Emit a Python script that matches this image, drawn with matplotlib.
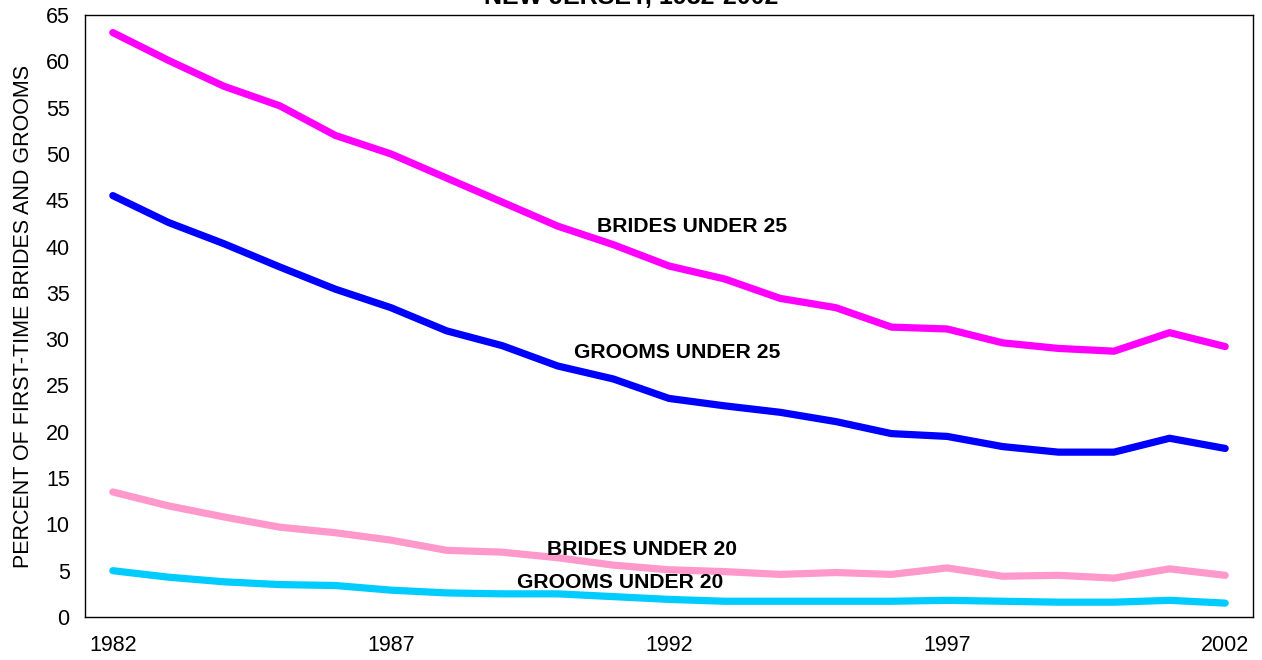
import matplotlib
matplotlib.use("Agg")
import matplotlib.pyplot as plt

plt.rcParams['font.family'] = ['Liberation Sans', 'DejaVu Sans']

years = list(range(1982, 2003))
brides_under_25 = [63.1, 60.1, 57.3, 55.2, 52.0, 50.0, 47.4, 44.8, 42.2, 40.2, 37.9,
                   36.5, 34.4, 33.4, 31.3, 31.1, 29.6, 29.0, 28.7, 30.7, 29.2]
grooms_under_25 = [45.5, 42.6, 40.3, 37.8, 35.4, 33.4, 30.9, 29.3, 27.1, 25.7, 23.6,
                   22.8, 22.1, 21.1, 19.8, 19.5, 18.4, 17.8, 17.8, 19.3, 18.2]
brides_under_20 = [13.5, 12.0, 10.8, 9.7, 9.1, 8.3, 7.2, 7.0, 6.4, 5.6, 5.1,
                   4.9, 4.6, 4.8, 4.6, 5.3, 4.4, 4.5, 4.2, 5.2, 4.5]
grooms_under_20 = [5.0, 4.3, 3.8, 3.5, 3.4, 2.9, 2.6, 2.5, 2.5, 2.2, 1.9,
                   1.7, 1.7, 1.7, 1.7, 1.8, 1.7, 1.6, 1.6, 1.8, 1.5]

series = [
    ("BRIDES UNDER 25", brides_under_25, "#FF00FF", (1992.41, 42.2)),
    ("GROOMS UNDER 25", grooms_under_25, "#0000FF", (1992.14, 28.6)),
    ("BRIDES UNDER 20", brides_under_20, "#FF99CC", (1991.51, 7.3)),
    ("GROOMS UNDER 20", grooms_under_20, "#00CCFF", (1991.12, 3.7)),
]

fig = plt.figure(figsize=(12.62, 6.6), dpi=100)
ax = fig.add_axes([85/1262, 43/660, (1253-85)/1262, (617-15)/660])

for name, vals, color, (lx, ly) in series:
    ax.plot(years, vals, color=color, linewidth=5.2, solid_capstyle='round',
            solid_joinstyle='round')
    ax.text(lx, ly, name, ha='center', va='center', fontsize=15.2,
            fontweight='bold', color='black')

ax.set_xlim(1981.5, 2002.5)
ax.set_ylim(0, 65)
ax.set_yticks(range(0, 66, 5))
ax.set_xticks([1982, 1987, 1992, 1997, 2002])
ax.tick_params(axis='both', length=0, labelsize=15.5)
ax.tick_params(axis='y', pad=11)
ax.tick_params(axis='x', pad=13)
for s in ax.spines.values():
    s.set_linewidth(1.0)
    s.set_color('black')

ax.set_ylabel("PERCENT OF FIRST-TIME BRIDES AND GROOMS", fontsize=15.5, labelpad=8)

fig.text(0.5, 1 - 3.5/660, "NEW JERSEY, 1982-2002", ha='center', va='baseline',
         fontsize=18, fontweight='bold')

fig.savefig("out.png", dpi=100)
